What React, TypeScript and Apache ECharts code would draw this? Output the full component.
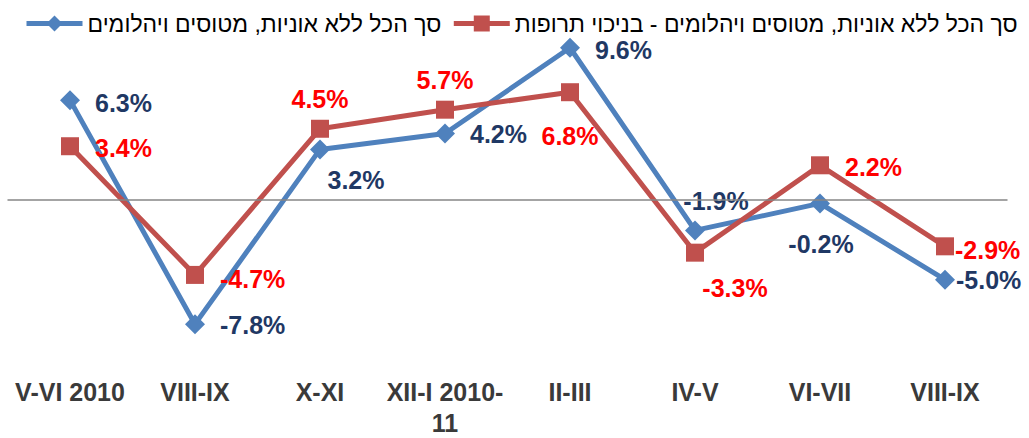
import React, { useEffect, useRef } from "react";
import * as echarts from "echarts";

const categories = ["V-VI 2010", "VIII-IX", "X-XI", "XII-I 2010-11", "II-III", "IV-V", "VI-VII", "VIII-IX"];
const seriesNames = [
  "סך הכל ללא אוניות, מטוסים ויהלומים",
  "סך הכל ללא אוניות, מטוסים ויהלומים - בניכוי תרופות",
];
const totalValues = [6.3, -7.8, 3.2, 4.2, 9.6, -1.9, -0.2, -5.0];
const exPharmaValues = [3.4, -4.7, 4.5, 5.7, 6.8, -3.3, 2.2, -2.9];

// label placement styles (not data)
const blueLabelPlace: any[] = [
  { position: "right", distance: 15, offset: [0, 3] },
  { position: "right", distance: 15, offset: [0, 1] },
  { position: "bottom", distance: 8, offset: [36, 0] },
  { position: "right", distance: 15, offset: [0, 0] },
  { position: "right", distance: 15, offset: [0, 2] },
  { position: "top", distance: 7, offset: [21, 0] },
  { position: "bottom", distance: 18, offset: [1, 0] },
  { position: "right", distance: 1, offset: [0, 0] },
];
const redLabelPlace: any[] = [
  { position: "right", distance: 16, offset: [0, 2] },
  { position: "right", distance: 16, offset: [0, 4] },
  { position: "top", distance: 8, offset: [0, 0] },
  { position: "top", distance: 8, offset: [0, 0] },
  { position: "bottom", distance: 22, offset: [0, 0] },
  { position: "bottom", distance: 14, offset: [40, 0] },
  { position: "right", distance: 16, offset: [0, 2] },
  { position: "right", distance: 1, offset: [0, 4] },
];

const FONT = "'Liberation Sans', Arial, 'DejaVu Sans', sans-serif";

export default function App() {
  const ref = useRef<HTMLDivElement>(null);
  useEffect(() => {
    if (!ref.current) return;
    const chart = echarts.init(ref.current, null, { renderer: "svg" });
    const mkData = (vals: number[], places: any[]) =>
      vals.map((v, i) => ({ value: v, label: { ...places[i] } }));
    chart.setOption({
      animation: false,
      backgroundColor: "#ffffff",
      textStyle: { fontFamily: FONT },
      legend: {
        left: 19,
        top: 7,
        itemWidth: 56,
        itemHeight: 20,
        itemGap: 10,
        lineStyle: { width: 5 },
        textStyle: { fontSize: 23, color: "#000", fontFamily: FONT },
        data: seriesNames,
      },
      grid: { left: 7.5, right: 21.5, top: 9.6, bottom: 55.8, containLabel: false },
      xAxis: {
        type: "category",
        data: categories,
        boundaryGap: true,
        axisLine: { show: false, onZero: false },
        axisTick: { show: false },
        axisLabel: {
          interval: 0,
          margin: 1,
          fontSize: 25,
          fontWeight: "bold",
          color: "#3a3a3a",
          lineHeight: 31,
          fontFamily: FONT,
          formatter: (v: string) => v.replace("2010-11", "2010-\n11"),
        },
      },
      yAxis: {
        type: "value",
        min: -11,
        max: 12,
        show: false,
        splitLine: { show: false },
      },
      series: [
        {
          name: seriesNames[0],
          type: "line",
          data: mkData(totalValues, blueLabelPlace),
          symbol: "diamond",
          symbolSize: 20,
          itemStyle: { color: "#4F81BD" },
          lineStyle: { color: "#4F81BD", width: 5 },
          label: {
            show: true,
            fontSize: 25,
            fontWeight: "bold",
            color: "#1F3864",
            fontFamily: FONT,
            formatter: (p: any) => p.value.toFixed(1) + "%",
          },
          markLine: {
            silent: true,
            symbol: "none",
            label: { show: false },
            lineStyle: { color: "#868686", width: 1.5, type: "solid" },
            data: [{ yAxis: 0 }],
          },
          z: 2,
        },
        {
          name: seriesNames[1],
          type: "line",
          data: mkData(exPharmaValues, redLabelPlace),
          symbol: "rect",
          symbolSize: 18,
          itemStyle: { color: "#C0504D" },
          lineStyle: { color: "#C0504D", width: 5 },
          label: {
            show: true,
            fontSize: 25,
            fontWeight: "bold",
            color: "#FF0000",
            fontFamily: FONT,
            formatter: (p: any) => p.value.toFixed(1) + "%",
          },
          z: 3,
        },
      ],
    });
    return () => chart.dispose();
  }, []);
  return (
    <div
      ref={ref}
      style={{ position: "absolute", left: 0, top: 0, width: 1029, height: 438 }}
    />
  );
}
